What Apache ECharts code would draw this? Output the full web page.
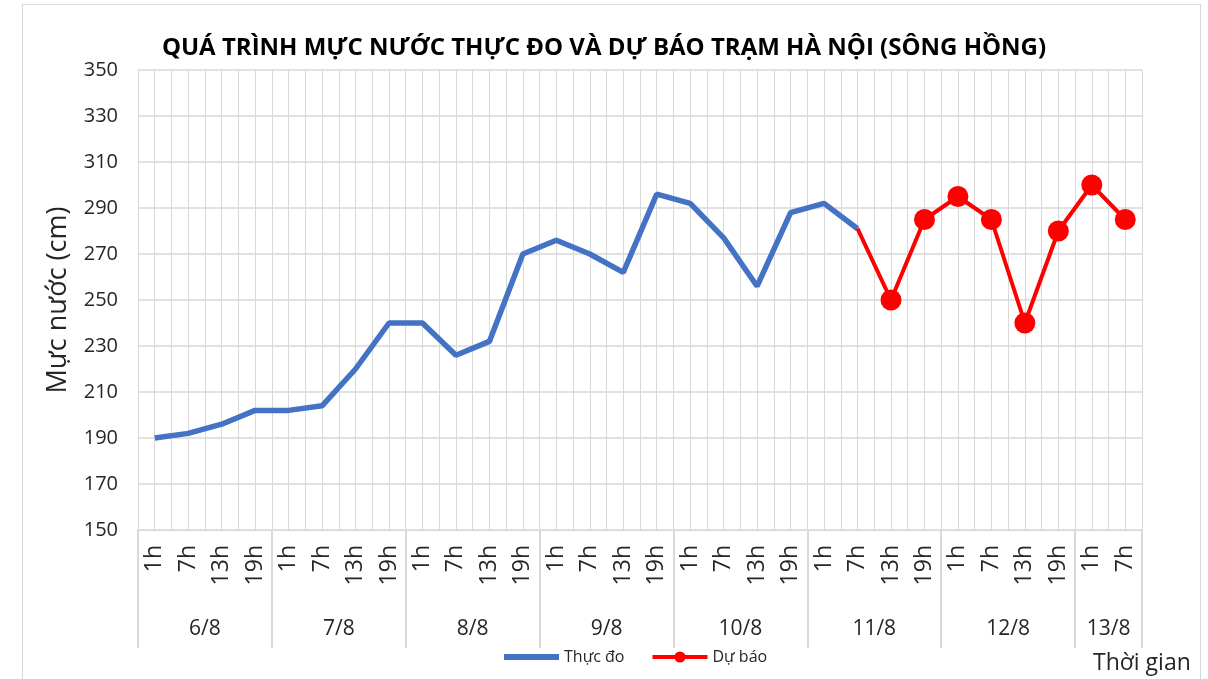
<!DOCTYPE html>
<html>
<head>
<meta charset="utf-8">
<script src="https://cdn.jsdelivr.net/npm/echarts@6/dist/echarts.min.js"></script>
<style>
  html, body { margin: 0; padding: 0; background: #fff; }
  #chart { position: absolute; left: 0; top: 0; width: 1208px; height: 679px; }
  #frame { position: absolute; left: 22px; top: 4px; width: 1177px; height: 690px; border: 1px solid #d9d9d9; pointer-events: none; }
</style>
</head>
<body>
<div id="chart"></div>
<div id="frame"></div>
<script>
// giờ quan trắc (trục x)
var hours = [
  "1h", "7h", "13h", "19h",  // 6/8
  "1h", "7h", "13h", "19h",  // 7/8
  "1h", "7h", "13h", "19h",  // 8/8
  "1h", "7h", "13h", "19h",  // 9/8
  "1h", "7h", "13h", "19h",  // 10/8
  "1h", "7h", "13h", "19h",  // 11/8
  "1h", "7h", "13h", "19h",  // 12/8
  "1h", "7h"                 // 13/8
];
var days = ["6/8", "7/8", "8/8", "9/8", "10/8", "11/8", "12/8", "13/8"];
var dayStart = [0, 4, 8, 12, 16, 20, 24, 28, 30];

// mực nước thực đo (cm)
var thucDo = [190, 192, 196, 202, 202, 204, 220, 240, 240, 226, 232, 270,
  276, 270, 262, 296, 292, 277, 256, 288, 292, 281];
// mực nước dự báo (cm), bắt đầu từ 7h ngày 11/8
var duBao = [281, 250, 285, 295, 285, 240, 280, 300, 285];
var duBaoStart = 21;

var yTicks = { min: 150, max: 350, step: 20 };

var font = "'Open Sans', sans-serif";

var blueData = hours.map(function (h, i) { return i < thucDo.length ? thucDo[i] : null; });
var redData = hours.map(function (h, i) {
  var k = i - duBaoStart;
  if (k < 0 || k >= duBao.length) return null;
  if (k === 0) return { value: duBao[k], symbol: "none" };
  return duBao[k];
});

// vị trí giữa mỗi ngày trên trục phụ
var dayCenters = [];
for (var d = 0; d < days.length; d++) {
  dayCenters.push((dayStart[d] + dayStart[d + 1]) / 2);
}
var halfSlots = [];
for (var s = 0; s < hours.length * 2; s++) halfSlots.push("");

var myChart = echarts.init(document.getElementById("chart"));
var option = {
  backgroundColor: "#fff",
  title: [
    {
      text: "QUÁ TRÌNH MỰC NƯỚC THỰC ĐO VÀ DỰ BÁO TRẠM HÀ NỘI (SÔNG HỒNG)",
      left: "center",
      top: 31,
      textStyle: { fontFamily: font, fontSize: 24, fontWeight: "bold", color: "#000" }
    },
    {
      text: "Thời gian",
      left: 1088,
      top: 647,
      textStyle: { fontFamily: font, fontSize: 23, fontWeight: "normal", color: "#262626" }
    }
  ],
  legend: {
    left: 496,
    top: 644,
    itemWidth: 55,
    itemHeight: 14,
    itemGap: 26,
    textStyle: { fontFamily: font, fontSize: 16, color: "#262626" },
    data: [
      { name: "Thực đo", itemStyle: { opacity: 0 }, lineStyle: { width: 6 } },
      { name: "Dự báo", lineStyle: { width: 4 } }
    ]
  },
  grid: { left: 138, right: 66, top: 70, bottom: 149, containLabel: false },
  xAxis: [
    {
      type: "category",
      data: hours,
      boundaryGap: true,
      position: "bottom",
      axisLine: { show: true, lineStyle: { color: "#d9d9d9", width: 1 } },
      axisTick: { show: false },
      axisLabel: { rotate: 90, interval: 0, margin: 15, fontFamily: font, fontSize: 23, color: "#262626" },
      splitLine: { show: false }
    },
    {
      type: "category",
      data: halfSlots,
      boundaryGap: true,
      position: "bottom",
      axisLine: { show: false },
      axisTick: { show: false },
      axisLabel: { show: false },
      splitLine: { show: true, interval: 0, lineStyle: { color: "#d9d9d9", width: 1 } }
    },
    {
      type: "value",
      min: 0,
      max: hours.length,
      position: "bottom",
      axisLine: { show: false },
      splitLine: { show: false },
      axisTick: { show: true, customValues: dayStart, length: 118, lineStyle: { color: "#d9d9d9", width: 2 } },
      axisLabel: {
        customValues: dayCenters,
        margin: 89,
        fontFamily: font,
        fontSize: 21,
        color: "#262626",
        formatter: function (v) { return days[dayCenters.indexOf(v)] || ""; }
      }
    }
  ],
  yAxis: {
    type: "value",
    min: yTicks.min,
    max: yTicks.max,
    interval: yTicks.step,
    name: "Mực nước (cm)",
    nameLocation: "middle",
    nameGap: 66,
    nameTextStyle: { fontFamily: font, fontSize: 27, color: "#262626" },
    axisLine: { show: false },
    axisTick: { show: false },
    axisLabel: { margin: 20, fontFamily: font, fontSize: 20, color: "#262626" },
    splitLine: { show: true, lineStyle: { color: "#d9d9d9", width: 1.5 } }
  },
  series: [
    {
      name: "Thực đo",
      type: "line",
      xAxisIndex: 0,
      data: blueData,
      symbol: "none",
      lineStyle: { color: "#4472C4", width: 5.5 },
      itemStyle: { color: "#4472C4" },
      z: 3
    },
    {
      name: "Dự báo",
      type: "line",
      xAxisIndex: 0,
      data: redData,
      symbol: "circle",
      symbolSize: 21,
      lineStyle: { color: "#FF0000", width: 4 },
      itemStyle: { color: "#FF0000" },
      z: 4
    }
  ]
};
myChart.setOption(option);
</script>
</body>
</html>
